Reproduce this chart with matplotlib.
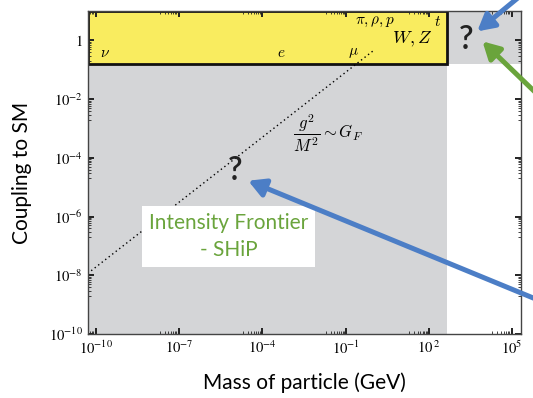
import numpy as np
import matplotlib
matplotlib.use('Agg')
import matplotlib.pyplot as plt
from matplotlib.patches import Rectangle

# axis ranges
mass_lim = [10**-10.29, 10**5.33]
coup_lim = [1e-10, 10.0]

# tick labels
x_ticks = [1e-10, 1e-7, 1e-4, 1e-1, 1e2, 1e5]
x_labels = [r'$10^{-10}$', r'$10^{-7}$', r'$10^{-4}$', r'$10^{-1}$', r'$10^{\,2}$', r'$10^{5}$']
y_ticks = [1e-10, 1e-8, 1e-6, 1e-4, 1e-2, 1]
y_labels = [r'$10^{-10}$', r'$10^{-8}$', r'$10^{-6}$', r'$10^{-4}$', r'$10^{-2}$', r'$1$']

# known region (SM particles) and excluded / explored regions
mass_max_known = 470.0
coup_min_known = 0.155

# g^2/M^2 ~ G_F line (dotted)
line_mass = [10**-10.3, 10**0.0]
line_coup = [10**-7.94, 10**-0.35]

# particle labels: text, log mass, log coupling, size
particles = [
    (r'$\nu$', -9.68, -0.41, 11),
    (r'$e$', -3.32, -0.41, 11),
    (r'$\mu$', -0.72, -0.41, 11),
    (r'$\pi,\rho,p$', 0.07, 0.66, 11),
    (r'$t$', 2.31, 0.66, 11),
    (r'$W,Z$', 1.41, 0.04, 13),
]

# question marks (log mass, log coupling)
question_pos = [(-4.98, -4.44), (3.36, 0.03)]

grey = '#d4d5d7'
yellow = '#f9ec5f'
blue = '#4c7ec6'
green = '#6aa43c'

fig = plt.figure(figsize=(5.33, 3.98), dpi=100)
ax = fig.add_axes([0.165, 0.161, 0.8125, 0.811])
ax.set_xscale('log')
ax.set_yscale('log')

# ticks
ax.set_xticks(x_ticks)
ax.set_xticklabels(x_labels, math_fontfamily='stix', fontsize=10.5)
ax.set_yticks(y_ticks)
ax.set_yticklabels(y_labels, math_fontfamily='stix', fontsize=10.5)
x_minor = [k * t / 10 for t in x_ticks for k in range(2, 10)]
y_minor = [k * t / 10 for t in y_ticks for k in range(2, 10)]
ax.set_xticks(x_minor, minor=True)
ax.set_yticks(y_minor, minor=True)
ax.xaxis.set_minor_formatter(plt.NullFormatter())
ax.yaxis.set_minor_formatter(plt.NullFormatter())
ax.tick_params(which='both', direction='in', top=True, right=True, color='#222222')
ax.tick_params(which='major', length=4.5, width=1.4, pad=4)
ax.tick_params(which='minor', length=2, width=0.6)
for s in ax.spines.values():
    s.set_color('#444444')
    s.set_linewidth(1.0)

# grey regions
ax.add_patch(Rectangle((mass_lim[0], coup_lim[0]), mass_max_known - mass_lim[0],
                       coup_lim[1] - coup_lim[0], facecolor=grey, edgecolor='none', zorder=0))
ax.add_patch(Rectangle((mass_lim[0], coup_min_known), mass_lim[1] - mass_lim[0],
                       coup_lim[1] - coup_min_known, facecolor=grey, edgecolor='none', zorder=0))
# yellow known box
ax.add_patch(Rectangle((mass_lim[0], coup_min_known), mass_max_known - mass_lim[0],
                       coup_lim[1] - coup_min_known, facecolor=yellow, edgecolor='#111111',
                       linewidth=2.0, zorder=1))

ax.plot(line_mass, line_coup, linestyle=(0, (1, 2.2)), color='black', linewidth=1.0, zorder=2)

for txt, lm, lc, fs in particles:
    ax.text(10**lm, 10**lc, txt, fontsize=fs, ha='center', va='center',
            math_fontfamily='cm', zorder=3)

ax.text(10**-2.9, 10**-3.15, r'$\dfrac{g^2}{M^2}\sim G_F$', fontsize=12,
        math_fontfamily='cm', ha='left', va='center', zorder=3)

for lm, lc in question_pos:
    ax.text(10**lm, 10**lc, '?', fontsize=23, family='Lato', fontweight='semibold',
            color='#222222', ha='center', va='center', zorder=4)

# text box
ax.text(10**-5.22, 10**-6.68, 'Intensity Frontier\n- SHiP', fontsize=15, family='Lato',
        color=green, ha='center', va='center', linespacing=1.45, zorder=5,
        bbox=dict(facecolor='white', edgecolor='none', pad=5))

# arrows
arrow_kw = dict(arrowstyle='-|>,head_length=1.0,head_width=0.55', linewidth=3.6,
                shrinkA=0, shrinkB=0)
ax.annotate('', xy=(10**-4.51, 10**-4.78), xycoords='data',
            xytext=(1.03, 0.235), textcoords='figure fraction', annotation_clip=False,
            arrowprops=dict(color=blue, **arrow_kw), zorder=6)
ax.annotate('', xy=(10**3.75, 10**0.31), xycoords='data',
            xytext=(0.985, 1.02), textcoords='figure fraction', annotation_clip=False,
            arrowprops=dict(color=blue, **arrow_kw), zorder=6)
ax.annotate('', xy=(10**3.94, 10**-0.03), xycoords='data',
            xytext=(1.03, 0.735), textcoords='figure fraction', annotation_clip=False,
            arrowprops=dict(color=green, **arrow_kw), zorder=6)

ax.set_xlim(mass_lim)
ax.set_ylim(coup_lim)

ax.set_xlabel('Mass of particle (GeV)', family='Lato', fontsize=15, labelpad=11)
ax.set_ylabel('Coupling to SM', family='Lato', fontsize=15, labelpad=12)

fig.savefig('out.png', dpi=100)
